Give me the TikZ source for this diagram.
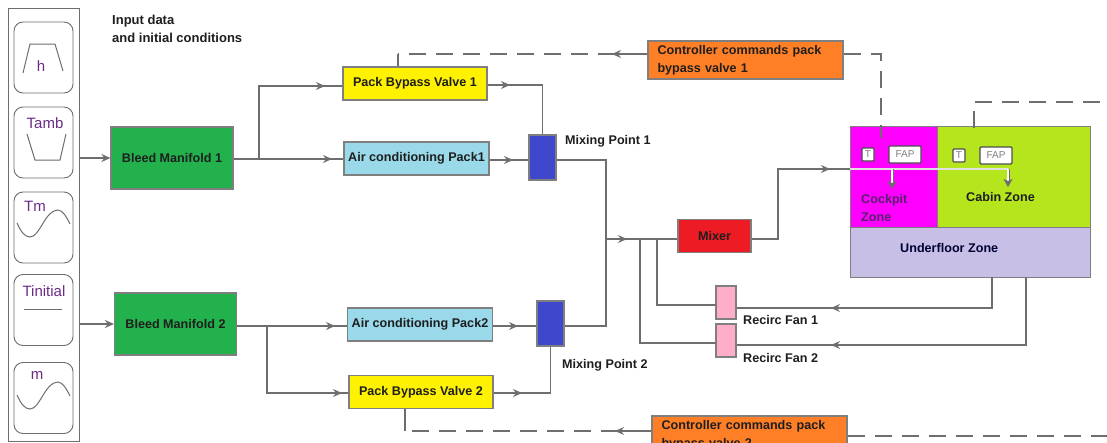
\documentclass[tikz,border=0pt]{standalone}
\usepackage{fontspec}
\setmainfont{Liberation Sans}
\usetikzlibrary{arrows.meta,positioning,calc}
\definecolor{cLine}{HTML}{6E6E6E}
\definecolor{cEdge}{HTML}{7F7F7F}
\definecolor{cGreenF}{HTML}{22B14C}
\definecolor{cYellowF}{HTML}{FFF200}
\definecolor{cSkyF}{HTML}{99D9EA}
\definecolor{cBlueF}{HTML}{3F48CC}
\definecolor{cOrangeF}{HTML}{FF7F27}
\definecolor{cRedF}{HTML}{ED1C24}
\definecolor{cPinkF}{HTML}{FFAEC9}
\definecolor{cMagentaF}{HTML}{FF00FF}
\definecolor{cLimeF}{HTML}{B5E61D}
\definecolor{cLilacF}{HTML}{C8BFE7}
\definecolor{cPurpleT}{HTML}{6A2C86}
\definecolor{cTextT}{HTML}{1E1E1E}
\tikzset{
  blk/.style    = {draw=cEdge, line width=1.2pt, inner sep=0pt, align=center,
                   text=cTextT, font=\fontsize{12.6}{18}\selectfont\bfseries},
  bleed/.style  = {blk, fill=cGreenF, minimum width=122pt, minimum height=62pt},
  valve/.style  = {blk, fill=cYellowF, minimum width=144pt, minimum height=33pt},
  pack/.style   = {blk, fill=cSkyF, minimum width=145pt, minimum height=33pt},
  mixpt/.style  = {blk, fill=cBlueF, minimum width=27pt, minimum height=45pt},
  ctrl/.style   = {blk, fill=cOrangeF, minimum width=195pt, minimum height=38pt,
                   align=left, text width=176pt},
  fan/.style    = {blk, fill=cPinkF, minimum width=20pt, minimum height=33pt},
  zone/.style   = {blk, line width=1pt},
  sens/.style   = {draw=cLine!70!black, fill=white, line width=1.1pt, rounded corners=1pt, inner sep=0pt,
                   font=\fontsize{10}{11}\selectfont, text=cEdge},
  inbox/.style  = {draw=cLine, line width=0.9pt, rounded corners=9pt, minimum width=59pt,
                   minimum height=71pt, inner sep=0pt},
  sig/.style    = {inner sep=0pt, font=\fontsize{15}{17}\selectfont, text=cPurpleT},
  lbl/.style    = {inner sep=0pt, anchor=west, text=cTextT, align=left,
                   font=\fontsize{12.6}{18}\selectfont\bfseries},
  flow/.style   = {cLine, line width=1.4pt},
  cont/.style   = {flow, shorten <=-3pt},
  arr/.style    = {flow, -{Stealth[length=9pt,width=8pt,inset=3pt]}},
  cmd/.style    = {flow, dash pattern=on 17pt off 10pt},
  inner/.style  = {white!88!black, line width=1.8pt},
  down/.style   = {cLine, line width=0.7pt, double=white, double distance=1.6pt,
                   -{Stealth[length=8pt,width=9pt,inset=2pt]}},
  hump/.pic = {
    \draw[cLine, line width=1pt] (0,0) -- (7,-29) -- (32,-29) -- (40,-2);
  },
  dip/.pic = {
    \draw[cLine, line width=1pt] (0,0) -- (8,26) -- (33,26) -- (39,0);
  },
  wave/.pic = {
    \draw[cLine, line width=1pt] (0,0) .. controls (4,9) and (8,14) .. (13,14)
      .. controls (23,14) and (28,-13) .. (41,-13) .. controls (46,-13) and (50,-5) .. (53,1);
  },
}
\begin{document}
\begin{tikzpicture}[x=1pt,y=-1pt]
  \useasboundingbox[fill=white] (0,0) rectangle (1107,442);
  % inputs
  \node[draw=cLine, line width=1pt, minimum width=71pt, minimum height=433pt, inner sep=0pt] (panel) at (43.5,224.5) {};
  \node[inbox] (boxH) at (43.5,57.5) {};
  \node[inbox] (boxTamb) at (43.5,142.5) {};
  \node[inbox] (boxTm) at (43.5,227.5) {};
  \node[inbox] (boxTinit) at (43.5,310) {};
  \node[inbox] (boxM) at (43.5,398) {};
  \path (23,73) pic{hump};
  \path (27,134) pic{dip};
  \path (17,223) pic{wave};
  \path (17,395) pic{wave};
  \node[sig] (sigH) at (41,66) {h};
  \node[sig] (sigTamb) at (45,123) {Tamb};
  \node[sig] (sigTm) at (35,206) {Tm};
  \node[sig] (sigTinit) at (44,291) {Tinitial};
  \node[sig] (sigM) at (37,375) {m};
  \coordinate (lvlA) at (24,309);
  \coordinate (lvlB) at (62,309);
  \draw[cLine, line width=1pt] (lvlA) -- (lvlB);
  \node[lbl, font=\fontsize{13}{18}\selectfont\bfseries] (inputs) at (112,29) {Input data\\and initial conditions};
  % main blocks
  \node[bleed] (bleedA) at (172,158) {Bleed Manifold 1};
  \node[bleed] (bleedB) at (175.5,324) {Bleed Manifold 2};
  \node[valve] (valveA) at (415,83.5) {Pack Bypass Valve 1};
  \node[pack] (packA) at (416.5,158.5) {Air conditioning Pack1};
  \node[pack] (packB) at (420,324.5) {Air conditioning Pack2};
  \node[valve] (valveB) at (421,392) {Pack Bypass Valve 2};
  \node[mixpt] (mixA) at (542.5,157.5) {};
  \node[mixpt] (mixB) at (550.5,323.5) {};
  \node[lbl] (mixAlbl) at (565,141) {Mixing Point 1};
  \node[lbl] (mixBlbl) at (562,365) {Mixing Point 2};
  \node[blk, fill=cRedF, minimum width=73pt, minimum height=33pt] (mixer) at (714.5,236) {Mixer};
  \node[fan] (fanA) at (726,302.5) {};
  \node[fan] (fanB) at (726,340.5) {};
  \node[lbl] (fanAlbl) at (743,320) {Recirc Fan 1};
  \node[lbl] (fanBlbl) at (743,358) {Recirc Fan 2};
  \node[ctrl] (ctrlA) at (745.5,60) {Controller commands pack\\bypass valve 1};
  \node[ctrl] (ctrlB) at (749.5,435) {Controller commands pack\\bypass valve 2};
  % zones
  \node[zone, fill=cMagentaF, minimum width=87pt, minimum height=101pt] (cockpit) at (893.5,176.5) {};
  \node[zone, fill=cLimeF, minimum width=153pt, minimum height=101pt] (cabin) at (1013.5,176.5) {};
  \node[zone, fill=cLilacF, minimum width=240pt, minimum height=50pt] (under) at (970,252) {};
  \node[lbl, text=cPurpleT!80!black] (cockpitlbl) at (861,208) {Cockpit\\Zone};
  \node[lbl] (cabinlbl) at (966,197) {Cabin Zone};
  \node[lbl, text=black!80!blue] (underlbl) at (900,248) {Underfloor Zone};
  \node[sens, minimum width=12pt, minimum height=13pt] (senA) at (868,154.5) {T};
  \node[sens, minimum width=32pt, minimum height=17pt] (fapA) at (905,154.5) {FAP};
  \node[sens, minimum width=12pt, minimum height=13pt] (senB) at (959,155.5) {T};
  \node[sens, minimum width=32pt, minimum height=17pt] (fapB) at (996,155.5) {FAP};
  % tips and bends
  \coordinate (splitA) at (259,159);
  \coordinate (tipVa) at (325,86);
  \coordinate (tipPa) at (332,159);
  \coordinate (tipVo) at (510,85);
  \coordinate (tipPo) at (513,160);
  \coordinate (splitB) at (267,326);
  \coordinate (tipPb) at (335,326);
  \coordinate (tipVb) at (342,393);
  \coordinate (tipPc) at (518,326);
  \coordinate (tipVc) at (522,393);
  \coordinate (joinX) at (606,239);
  \coordinate (tipJ) at (627,239);
  \coordinate (joinA) at (640,239);
  \coordinate (joinB) at (657,239);
  \coordinate (bendZ) at (778,239);
  \coordinate (tipZ) at (830,169);
  \coordinate (zoneIn) at (850,169);
  \coordinate (dropA) at (892,169);
  \coordinate (zoneEnd) at (1008,169);
  \coordinate (outA) at (992,277);
  \coordinate (outB) at (1026,277);
  \coordinate (tipFa) at (831,308);
  \coordinate (tipFb) at (831,345);
  \coordinate (fanInA) at (716,305);
  \coordinate (fanInB) at (716,343);
  % bleed air
  \draw[arr] (panel.east |- bleedA) -- (bleedA.west);
  \draw[arr] (panel.east |- bleedB) -- (bleedB.west);
  \draw[flow] (bleedA.east |- splitA) -- (splitA);
  \draw[arr] (splitA) |- (tipVa);
  \draw[cont] (tipVa) -- (valveA.west |- tipVa);
  \draw[arr] (splitA) -- (tipPa);
  \draw[cont] (tipPa) -- (packA.west |- tipPa);
  \draw[arr] (valveA.east |- tipVo) -- (tipVo);
  \draw[cont] (tipVo) -| (mixA.north);
  \draw[arr] (packA.east |- tipPo) -- (tipPo);
  \draw[cont] (tipPo) -- (mixA.west |- tipPo);
  \draw[flow] (bleedB.east |- splitB) -- (splitB);
  \draw[arr] (splitB) -- (tipPb);
  \draw[cont] (tipPb) -- (packB.west |- tipPb);
  \draw[arr] (splitB) |- (tipVb);
  \draw[cont] (tipVb) -- (valveB.west |- tipVb);
  \draw[arr] (packB.east |- tipPc) -- (tipPc);
  \draw[cont] (tipPc) -- (mixB.west |- tipPc);
  \draw[arr] (valveB.east |- tipVc) -- (tipVc);
  \draw[cont] (tipVc) -| (mixB.south);
  % to mixer and zones
  \draw[flow] (mixA.east |- tipPo) -| (joinX);
  \draw[flow] (mixB.east |- tipPc) -| (joinX);
  \draw[arr] (joinX) -- (tipJ);
  \draw[cont] (tipJ) -- (mixer.west |- tipJ);
  \draw[arr] (mixer.east |- bendZ) -- (bendZ) |- (tipZ);
  \draw[cont] (tipZ) -- (zoneIn);
  \draw[inner] (zoneIn) -- (zoneEnd);
  \draw[down] (dropA) -- ++(0,20) coordinate (dropAend);
  \draw[down] (zoneEnd) -- ++(0,18) coordinate (dropBend);
  % recirculation
  \draw[flow] (joinA) |- (fanInB);
  \draw[flow] (joinB) |- (fanInA);
  \draw[arr] (outA) |- (tipFa);
  \draw[cont] (tipFa) -- (fanA.east |- tipFa);
  \draw[arr] (outB) |- (tipFb);
  \draw[cont] (tipFb) -- (fanB.east |- tipFb);
  % commands
  \coordinate (cmdA) at (612,54);
  \coordinate (cmdB) at (398,54);
  \coordinate (cmdC) at (881,54);
  \coordinate (cmdD) at (881,138);
  \coordinate (cmdE) at (1100,102);
  \coordinate (cmdF) at (974,102);
  \coordinate (cmdG) at (974,133);
  \coordinate (cmdH) at (615,431);
  \coordinate (cmdI) at (405,431);
  \coordinate (cmdJ) at (1107,436);
  \draw[arr] (ctrlA.west |- cmdA) -- (cmdA);
  \draw[cmd, shorten <=-3pt] (cmdA) -- (cmdB);
  \draw[flow] (cmdB) -- (valveA.north -| cmdB);
  \draw[cmd] (ctrlA.east |- cmdC) -- (cmdC) -- (cmdD);
  \draw[cmd] (cmdE) -- (cmdF) -- (cmdG);
  \draw[arr] (ctrlB.west |- cmdH) -- (cmdH);
  \draw[cmd, shorten <=-3pt] (cmdH) -- (cmdI);
  \draw[flow] (cmdI) -- (valveB.south -| cmdI);
  \draw[cmd] (ctrlB.east |- cmdJ) -- (cmdJ);
\end{tikzpicture}
\end{document}
